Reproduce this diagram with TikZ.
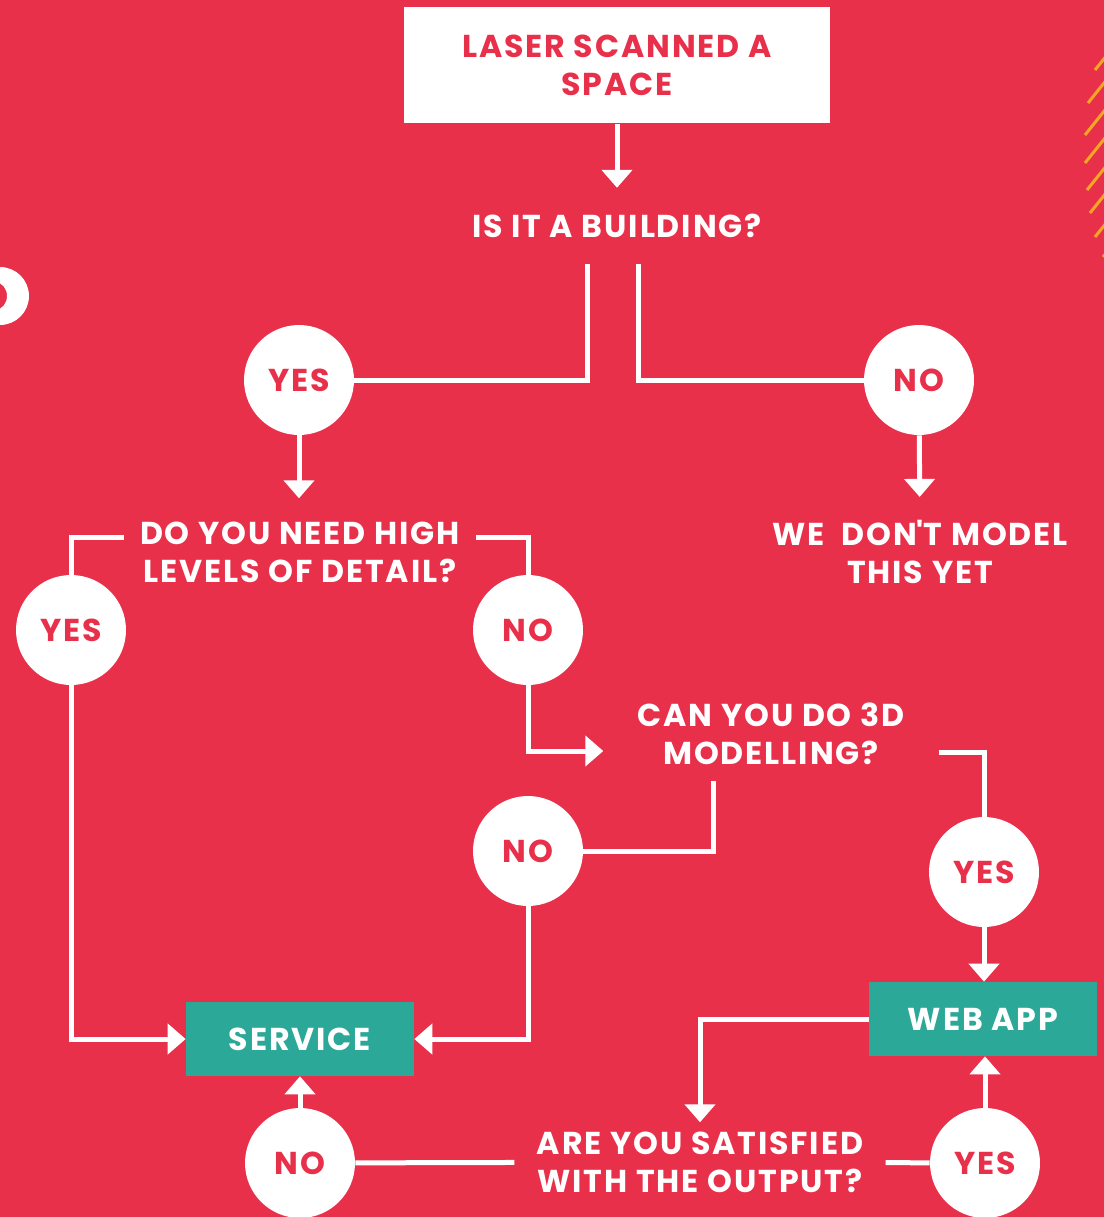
\documentclass[tikz,border=0pt]{standalone}
\usepackage{fontspec}
\setmainfont{Poppins}[LetterSpace=6]
\usepackage{tikz}
\usetikzlibrary{arrows.meta}

\definecolor{bgred}{HTML}{E9304B}
\definecolor{appteal}{HTML}{2CA898}
\definecolor{stripe}{HTML}{F5A623}

\tikzset{
  flowfont/.style={font=\fontsize{18}{21.6}\selectfont\bfseries},
  ask/.style={flowfont, text=white, align=center},
  answer/.style={circle, fill=white, minimum size=2.2cm, inner sep=0pt, flowfont, text=bgred},
  result/.style={rectangle, fill=appteal, minimum width=4.56cm, minimum height=1.48cm, flowfont, text=white},
  link/.style={white, line width=0.1cm, line join=miter},
  arr/.style={link, -{Triangle[width=0.6cm,length=0.36cm]}},
}

\begin{document}
\begin{tikzpicture}[x=0.02cm,y=-0.02cm]

\useasboundingbox (0,0) rectangle (1104,1217);
\clip (0,0) rectangle (1104,1217);
\fill[bgred] (0,0) rectangle (1104,1217);

\foreach \x/\y in {1095/70,1088/103,1085/135,1085/163,1087/190,1090/213,1095/237,1103/257}
  \draw[stripe, line width=0.06cm] (\x,\y) -- ++(24,-30);
\fill[white, even odd rule] (0,296) circle[radius=0.58cm] (-4,296) ellipse[x radius=0.22cm, y radius=0.27cm];

\node[rectangle, fill=white, minimum width=8.54cm, minimum height=2.34cm, flowfont, text=bgred, align=center] (scan) at (617,65) {LASER SCANNED A\\SPACE};
\node[ask, inner ysep=0.52cm] (build) at (617,226) {IS IT A BUILDING?};

\node[answer] (yes1) at (299,380) {YES};
\node[answer] (no1) at (919,380) {NO};

\node[ask, inner xsep=0.32cm, inner ysep=0.46cm] (detail) at (300,552) {DO YOU NEED HIGH\\LEVELS OF DETAIL?};
\node[ask, inner ysep=0.46cm] (notyet) at (920,552) {WE\ \ DON\textquotesingle T MODEL\\THIS YET};

\node[answer] (yes2) at (71,630) {YES};
\node[answer] (no2) at (528,630) {NO};

\node[ask, inner xsep=0.68cm, inner ysep=0.32cm] (model) at (771,734) {CAN YOU DO 3D\\MODELLING?};

\node[answer] (no3) at (528,851) {NO};
\node[answer] (yes3) at (984,872) {YES};

\node[result] (service) at (300,1039) {SERVICE};
\node[result] (webapp) at (983,1019) {WEB APP};

\node[ask, inner xsep=0.44cm, inner ysep=0.18cm] (satis) at (700,1162) {ARE YOU SATISFIED\\WITH THE OUTPUT?};

\node[answer] (no4) at (300,1163) {NO};
\node[answer] (yes4) at (985,1163) {YES};

\draw[arr] (scan) -- (build);
\draw[link] ([xshift=-0.6cm]build.south) |- (yes1);
\draw[link] ([xshift=0.42cm]build.south) |- (no1);
\draw[arr] (yes1.south) -- (yes1.south |- detail.north);
\draw[arr] (no1) -- (notyet);

\draw[link] ([yshift=0.3cm]detail.west) -| (yes2);
\draw[link] ([yshift=0.3cm]detail.east) -| (no2);
\draw[arr] (no2) |- ([yshift=-0.34cm]model.west);
\draw[arr] (yes2) |- (service);

\draw[link] ([xshift=-1.16cm]model.south) |- (no3);
\draw[arr] (no3) |- (service);
\draw[link] ([yshift=-0.36cm]model.east) -| (yes3);
\draw[arr] (yes3.south) -- (yes3.south |- webapp.north);

\draw[arr] (webapp) -| (satis);
\draw[link] (satis) -- (no4);
\draw[link] (satis) -- (yes4);
\draw[arr] (no4) -- (service);
\draw[arr] (yes4.north) -- (yes4.north |- webapp.south);

\end{tikzpicture}
\end{document}
